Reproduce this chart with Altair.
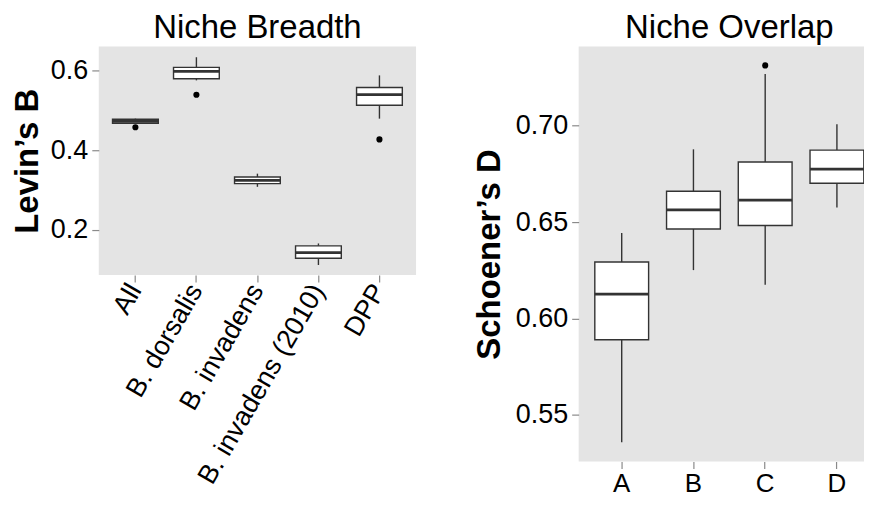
import altair as alt
import pandas as pd

# ---- Niche Breadth (Levin's B) ----
left_cats = ["All", "B. dorsalis", "B. invadens", "B. invadens (2010)", "DPP"]
left_lo = [0.466, 0.575, 0.308, 0.112, 0.479]
left_q1 = [0.4675, 0.579, 0.316, 0.129, 0.5125]
left_med = [0.4725, 0.5975, 0.324, 0.143, 0.539]
left_q3 = [0.4775, 0.6075, 0.3325, 0.160, 0.557]
left_hi = [0.479, 0.633, 0.341, 0.166, 0.5875]
left_out_cat = ["All", "B. dorsalis", "DPP"]
left_out_val = [0.4575, 0.539, 0.427]

# ---- Niche Overlap (Schoener's D) ----
right_cats = ["A", "B", "C", "D"]
right_lo = [0.5359, 0.6251, 0.6175, 0.6575]
right_q1 = [0.589, 0.6464, 0.6482, 0.6701]
right_med = [0.6126, 0.6563, 0.6614, 0.6774]
right_q3 = [0.6293, 0.666, 0.6811, 0.6873]
right_hi = [0.6443, 0.6877, 0.7267, 0.7007]
right_out_cat = ["C"]
right_out_val = [0.7312]

FONT = "Liberation Sans"
LINE = "#333333"


def panel(cats, lo, q1, med, q3, hi, out_cat, out_val, title, ytitle,
          domain, ticks, fmt, width, height, angle, med_size, tpad):
    df = pd.DataFrame({"cat": cats, "lo": lo, "q1": q1, "med": med,
                       "q3": q3, "hi": hi})
    dout = pd.DataFrame({"cat": out_cat, "val": out_val})
    xscale = alt.Scale(domain=cats, paddingInner=0.25, paddingOuter=0.225)
    yscale = alt.Scale(domain=domain, nice=False, zero=False)
    if angle:
        xaxis = alt.Axis(title=None, labelAngle=angle, labelLimit=400,
                         labelAlign="right", labelBaseline="middle",
                         labelPadding=4, labelFontSize=27)
    else:
        xaxis = alt.Axis(title=None, labelAngle=0, labelAlign="center",
                         labelBaseline="top", labelPadding=2, labelFontSize=26)
    yaxis = alt.Axis(title=ytitle, values=ticks, format=fmt, titlePadding=tpad)
    x = alt.X("cat:N", scale=xscale, axis=xaxis, sort=cats)
    base = alt.Chart(df)
    whisk = base.mark_rule(color=LINE, strokeWidth=1.4, opacity=1).encode(
        x=x, y=alt.Y("lo:Q", scale=yscale, axis=yaxis), y2="hi:Q")
    box = base.mark_bar(fill="white", stroke=LINE, strokeWidth=1.4,
                        opacity=1).encode(
        x=x, y=alt.Y("q1:Q", scale=yscale), y2="q3:Q")
    medl = base.mark_tick(color=LINE, thickness=2.8, size=med_size,
                          opacity=1).encode(
        x=x, y=alt.Y("med:Q", scale=yscale))
    pts = alt.Chart(dout).mark_circle(color="black", opacity=1, size=38).encode(
        x=alt.X("cat:N", scale=xscale, sort=cats),
        y=alt.Y("val:Q", scale=yscale))
    return alt.layer(whisk, box, medl, pts).properties(
        width=width, height=height,
        title=alt.TitleParams(title, fontSize=33, font=FONT,
                              fontWeight="normal", color="black",
                              anchor="middle", offset=2))


left = panel(left_cats, left_lo, left_q1, left_med, left_q3, left_hi,
             left_out_cat, left_out_val, "Niche Breadth", "Levin\u2019s B",
             [0.087, 0.66], [0.2, 0.4, 0.6], ".1f", 318, 229, -60, 46, 5.5)
right = panel(right_cats, right_lo, right_q1, right_med, right_q3, right_hi,
              right_out_cat, right_out_val, "Niche Overlap", "Schoener\u2019s D",
              [0.5259, 0.741], [0.55, 0.60, 0.65, 0.70], ".2f", 302, 416, 0, 54,
              8.5)

chart = alt.hconcat(left, right, spacing=57).properties(
    padding={"left": 3, "top": 3, "right": -16, "bottom": 0}
).configure_view(
    fill="#E4E4E4", stroke=None
).configure_axis(
    grid=False, domain=False, tickColor="#8A8A8A", tickSize=7, tickWidth=1.2,
    labelFont=FONT, labelFontSize=27, labelColor="black",
    titleFont=FONT, titleFontSize=33, titleFontWeight="bold",
    titleColor="black"
).configure_axisY(labelPadding=4)

chart.save("out.html", embed_options={"renderer": "svg", "actions": False})
